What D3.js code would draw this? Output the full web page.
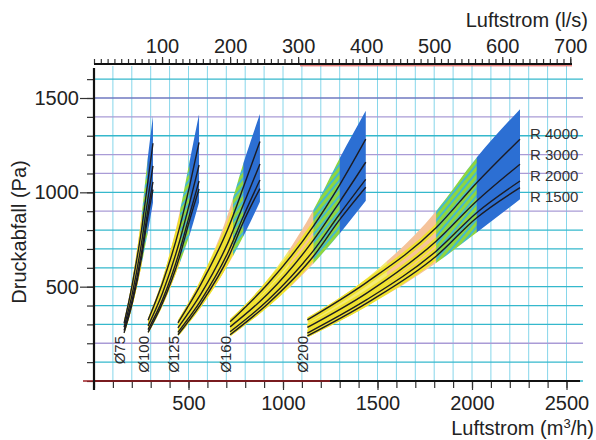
<!DOCTYPE html>
<html>
<head>
<meta charset="utf-8">
<title>Druckabfall</title>
<script src="https://cdn.jsdelivr.net/npm/d3@7/dist/d3.min.js"></script>
<style>
  body { margin: 0; background: #fff; }
  text { font-family: "Liberation Sans", Arial, sans-serif; fill: #222; }
</style>
</head>
<body>
<div id="chart"></div>
<script>

// one row per duct diameter, flow in m3/h, pressure in Pa
var diameters = ["Ø75", "Ø100", "Ø125", "Ø160", "Ø200"],
    rNames = ["R 4000", "R 3000", "R 2000", "R 1500"],
    flowPts = [
        [159, 202, 252, 282, 312],
        [286, 362, 452, 507, 556],
        [444, 565, 712, 797, 878],
        [720, 920, 1160, 1300, 1438],
        [1129, 1443, 1810, 2025, 2254]
    ],
    r4000 = [
        [305, 510, 805, 1035, 1260],
        [322, 518, 810, 1040, 1265],
        [308, 512, 815, 1045, 1270],
        [314, 515, 820, 1040, 1282],
        [324, 523, 812, 1051, 1282]
    ],
    r3000 = [
        [285, 460, 735, 945, 1140],
        [292, 465, 738, 948, 1145],
        [282, 460, 740, 952, 1150],
        [287, 462, 745, 950, 1160],
        [284, 466, 741, 954, 1149]
    ],
    r2000 = [
        [268, 428, 684, 884, 1055],
        [272, 430, 686, 886, 1060],
        [258, 426, 688, 888, 1065],
        [261, 428, 690, 885, 1069],
        [254, 431, 688, 892, 1060]
    ],
    r1500 = [
        [255, 410, 655, 852, 1015],
        [258, 412, 656, 856, 1018],
        [245, 408, 658, 858, 1020],
        [245, 410, 660, 855, 1027],
        [239, 413, 661, 865, 1025]
    ],
    bandTop = [
        [318, 532, 880, 1160, 1404],
        [334, 540, 890, 1170, 1415],
        [322, 538, 895, 1175, 1415],
        [328, 540, 905, 1180, 1432],
        [336, 545, 900, 1184, 1441]
    ],
    bandBottom = [
        [247, 395, 618, 775, 945],
        [250, 398, 620, 778, 948],
        [236, 390, 620, 780, 950],
        [236, 392, 622, 782, 955],
        [231, 395, 625, 787, 963]
    ],
    // flow where the band colour changes
    zonePeach = [224, 400, 635, 1030, 1550],
    zoneGreen = [252, 455, 735, 1160, 1810],
    zoneBlue = [282, 505, 790, 1300, 2025],
    flowTicks = [500, 1000, 1500, 2000, 2500],
    lsTicks = [100, 200, 300, 400, 500, 600, 700],
    paTicks = [500, 1000, 1500];

var width = 596,
    height = 440;

var x = d3.scaleLinear().domain([0, 2500]).range([94, 566.5]),
    xls = d3.scaleLinear().domain([0, 700]).range([94, x(2520)]),
    y = d3.scaleLinear().domain([0, 1500]).range([381, 98]);

var svg = d3.select("#chart").append("svg")
    .attr("width", width)
    .attr("height", height);

var defs = svg.append("defs");

// green zone: lime with cyan hatching
var hatch = defs.append("pattern")
    .attr("id", "hatch")
    .attr("patternUnits", "userSpaceOnUse")
    .attr("width", 5)
    .attr("height", 5)
    .attr("patternTransform", "rotate(40)");
hatch.append("rect").attr("width", 5).attr("height", 5).attr("fill", "#8fd63e");
hatch.append("rect").attr("width", 2).attr("height", 5).attr("fill", "#45b9cc");

// grid
var lavender = [200, 900, 1100, 1200, 1400];
svg.append("g").selectAll("line")
    .data(d3.range(100, 2600, 100))
    .enter().append("line")
    .attr("x1", function(d) { return x(d); })
    .attr("x2", function(d) { return x(d); })
    .attr("y1", 66)
    .attr("y2", 381)
    .style("stroke", "#86d6ea")
    .style("stroke-width", 1);

svg.append("g").selectAll("line")
    .data(d3.range(0, 1700, 100))
    .enter().append("line")
    .attr("x1", 94)
    .attr("x2", 583)
    .attr("y1", function(d) { return y(d); })
    .attr("y2", function(d) { return y(d); })
    .style("stroke", function(d) {
        if (d === 1500) return "#6f78c0";
        return lavender.indexOf(d) >= 0 ? "#a99bd6" : "#35b8cc";
    })
    .style("stroke-width", 1.3);

// bands and curves
var area = d3.area()
    .x(function(d) { return x(d.q); })
    .y0(function(d) { return y(d.lo); })
    .y1(function(d) { return y(d.hi); })
    .curve(d3.curveMonotoneX);

var line = d3.line()
    .x(function(d) { return x(d.q); })
    .y(function(d) { return y(d.p); })
    .curve(d3.curveMonotoneX);

var curves = [r4000, r3000, r2000, r1500];

diameters.forEach(function(name, i) {
    var q = flowPts[i];
    var band = q.map(function(v, j) {
        return {q: v, lo: bandBottom[i][j], hi: bandTop[i][j]};
    });

    defs.append("clipPath")
        .attr("id", "band" + i)
        .append("path")
        .attr("d", area(band));

    defs.append("clipPath")
        .attr("id", "warm" + i)
        .append("rect")
        .attr("x", 0)
        .attr("width", x(zoneGreen[i]))
        .attr("y", 0)
        .attr("height", height);

    var g = svg.append("g").attr("clip-path", "url(#band" + i + ")");

    var zones = [
        {a: q[0], b: zonePeach[i], fill: "#f3ea78"},
        {a: zonePeach[i], b: zoneGreen[i], fill: "#f5c39a"},
        {a: zoneGreen[i], b: zoneBlue[i], fill: "url(#hatch)"},
        {a: zoneBlue[i], b: q[q.length - 1], fill: "#2c6fd3"}
    ];

    g.selectAll("rect")
        .data(zones)
        .enter().append("rect")
        .attr("x", function(d) { return x(d.a); })
        .attr("width", function(d) { return x(d.b) - x(d.a) + 0.5; })
        .attr("y", 50)
        .attr("height", 340)
        .attr("fill", function(d) { return d.fill; });

    // yellow glow along the lines in the low flow part
    var warm = g.append("g").attr("clip-path", "url(#warm" + i + ")");
    curves.forEach(function(c) {
        var pts = q.map(function(v, j) { return {q: v, p: c[i][j]}; });
        warm.append("path")
            .attr("d", line(pts))
            .style("fill", "none")
            .style("stroke", "#efe12e")
            .style("stroke-width", 6);
    });

    curves.forEach(function(c) {
        var pts = q.map(function(v, j) { return {q: v, p: c[i][j]}; });
        svg.append("path")
            .attr("d", line(pts))
            .style("fill", "none")
            .style("stroke", "#1c1c24")
            .style("stroke-width", 1.4);
    });

    svg.append("text")
        .attr("transform", "translate(" + (x(q[0]) + 1) + ",336) rotate(-90)")
        .attr("text-anchor", "end")
        .style("font-size", "15px")
        .style("fill", "#2a2a2a")
        .text(name);
});

// R labels next to the last band
var last = diameters.length - 1;
svg.append("g").selectAll("text")
    .data(rNames)
    .enter().append("text")
    .attr("x", 530)
    .attr("y", function(d, i) { return y(r4000[last][4]) + i * 21; })
    .style("font-size", "15px")
    .style("fill", "#333")
    .text(function(d) { return d; });

// axes
var fmt = d3.format("d");
var bottomMinor = d3.axisBottom(x).tickValues(d3.range(0, 2600, 100)).tickSize(7).tickFormat("");
var bottomMajor = d3.axisBottom(x).tickValues(flowTicks).tickSize(9).tickPadding(6).tickFormat(fmt);
var leftMinor = d3.axisLeft(y).tickValues(d3.range(0, 1700, 100)).tickSize(7).tickFormat("");
var leftMajor = d3.axisLeft(y).tickValues(paTicks).tickSize(14).tickPadding(1).tickFormat(fmt);
var topMinor = d3.axisTop(xls).tickValues(d3.range(0, 710, 10)).tickSize(5).tickFormat("");
var topMajor = d3.axisTop(xls).tickValues(lsTicks).tickSize(7).tickPadding(4).tickFormat(fmt);

function place(axis, tx, ty) {
    var g = svg.append("g")
        .attr("transform", "translate(" + tx + "," + ty + ")")
        .call(axis);
    g.select(".domain").remove();
    g.selectAll("line").style("stroke", "#333").style("stroke-width", 1.2);
    g.selectAll("text")
        .style("font-size", "20px")
        .style("font-family", "'Liberation Sans', Arial, sans-serif")
        .style("fill", "#222");
    return g;
}

place(bottomMinor, 0, 381);
place(bottomMajor, 0, 381);
place(leftMinor, 94, 0);
place(leftMajor, 94, 0);
place(topMinor, 0, 64);
place(topMajor, 0, 64);

svg.append("line")
    .attr("x1", 94).attr("x2", 580).attr("y1", 381).attr("y2", 381)
    .style("stroke", "#111").style("stroke-width", 2);
svg.append("line")
    .attr("x1", 83).attr("x2", 330).attr("y1", 381).attr("y2", 381)
    .style("stroke", "#9c1f24").style("stroke-width", 1.6);
svg.append("line")
    .attr("x1", 300).attr("x2", 572).attr("y1", 65.8).attr("y2", 65.8)
    .style("stroke", "#e2504a").style("stroke-width", 1);
svg.append("line")
    .attr("x1", 94).attr("x2", 572).attr("y1", 64).attr("y2", 64)
    .style("stroke", "#111").style("stroke-width", 2.2);
svg.append("line")
    .attr("x1", 94).attr("x2", 94).attr("y1", 68).attr("y2", 390)
    .style("stroke", "#111").style("stroke-width", 2.2);

// titles
svg.append("text")
    .attr("x", 588).attr("y", 27)
    .attr("text-anchor", "end")
    .style("font-size", "20px")
    .text("Luftstrom (l/s)");

var xt = svg.append("text")
    .attr("x", 594).attr("y", 435)
    .attr("text-anchor", "end")
    .style("font-size", "20px");
xt.append("tspan").text("Luftstrom (m");
xt.append("tspan").attr("dy", -7).style("font-size", "13px").text("3");
xt.append("tspan").attr("dy", 7).text("/h)");

svg.append("text")
    .attr("transform", "translate(26,232) rotate(-90)")
    .attr("text-anchor", "middle")
    .style("font-size", "20px")
    .text("Druckabfall (Pa)");

</script>
</body>
</html>
